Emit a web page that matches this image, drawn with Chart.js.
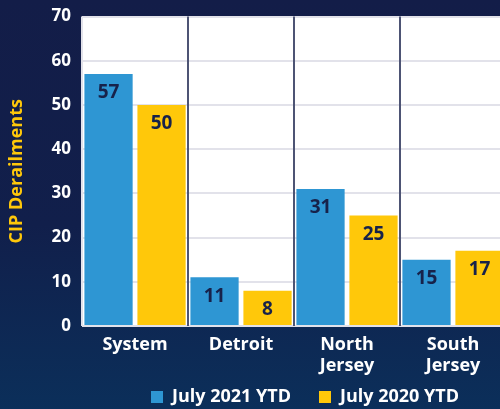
<!DOCTYPE html>
<html>
<head>
<meta charset="utf-8">
<script src="https://cdn.jsdelivr.net/npm/chart.js@4"></script>
<style>
  html, body { margin: 0; padding: 0; overflow: hidden; }
  body {
    width: 500px; height: 409px;
    background: linear-gradient(180deg, #131d48 0%, #111f4b 55%, #0b2f5a 100%);
  }
  #wrap { position: relative; width: 506px; height: 409px; }
</style>
</head>
<body>
<div id="wrap"><canvas id="chart"></canvas></div>
<script>
const categories = ['System', 'Detroit', ['North', 'Jersey'], ['South', 'Jersey']];
const ytd2021 = [57, 11, 31, 15];
const ytd2020 = [50, 8, 25, 17];
const seriesNames = ['July 2021 YTD', 'July 2020 YTD'];

const BLUE = '#2e96d3';
const GOLD = '#ffc80a';
const NAVY = '#17224a';
const FONT = '"Open Sans", "DejaVu Sans", sans-serif';

// white plot background + dark dividers between categories
const plotBg = {
  id: 'plotBg',
  beforeDraw(chart) {
    const { ctx, chartArea: a } = chart;
    ctx.save();
    ctx.fillStyle = '#ffffff';
    ctx.fillRect(a.left, a.top, a.right - a.left, a.bottom - a.top);
    ctx.restore();
  },
  beforeDatasetsDraw(chart) {
    const { ctx, chartArea: a, scales: { x } } = chart;
    ctx.save();
    ctx.strokeStyle = '#4d5474';
    ctx.lineWidth = 2;
    for (let i = 1; i < categories.length; i++) {
      const px = Math.round((x.getPixelForValue(i - 1) + x.getPixelForValue(i)) / 2);
      ctx.beginPath();
      ctx.moveTo(px, a.top);
      ctx.lineTo(px, a.bottom);
      ctx.stroke();
    }
    ctx.restore();
  }
};

// legend uses a wide item gap (= padding); stretch its box upward so the row fits
const legendLift = {
  id: 'legendLift',
  afterLayout(chart) {
    const lg = chart.legend;
    if (!lg) return;
    lg.top -= 16;
    lg.height += 16;
    lg.left += 11;
    lg.right += 11;
  }
};

const barLabels = {
  id: 'barLabels',
  afterDatasetsDraw(chart) {
    const { ctx } = chart;
    ctx.save();
    ctx.fillStyle = NAVY;
    ctx.font = `bold 19px ${FONT}`;
    ctx.textAlign = 'center';
    ctx.textBaseline = 'middle';
    chart.data.datasets.forEach((ds, di) => {
      chart.getDatasetMeta(di).data.forEach((bar, i) => {
        ctx.fillText(String(ds.data[i]), bar.x, bar.y + 19);
      });
    });
    ctx.restore();
  }
};

new Chart(document.getElementById('chart'), {
  type: 'bar',
  data: {
    labels: categories,
    datasets: [
      { label: seriesNames[0], data: ytd2021, backgroundColor: BLUE },
      { label: seriesNames[1], data: ytd2020, backgroundColor: GOLD }
    ]
  },
  options: {
    responsive: true,
    maintainAspectRatio: false,
    animation: false,
    layout: { padding: { top: 0, left: 6, right: 0, bottom: 0 } },
    datasets: { bar: { categoryPercentage: 1.0, barPercentage: 0.91 } },
    plugins: {
      legend: {
        position: 'bottom',
        fullSize: false,
        maxHeight: 33,
        labels: {
          color: '#ffffff',
          font: { family: FONT, size: 18, weight: 'bold' },
          boxWidth: 12, boxHeight: 12, padding: 28
        }
      },
      tooltip: { enabled: false }
    },
    scales: {
      x: {
        grid: { color: '#e2e2ea', lineWidth: 2, drawTicks: false },
        border: { display: false },
        ticks: {
          color: '#ffffff', padding: 9,
          font: { family: FONT, size: 18, weight: 'bold', lineHeight: 1.15 }
        },
        afterFit(scale) { scale.height = 50; }
      },
      y: {
        min: 0, max: 70,
        grid: { color: '#e2e2ea', lineWidth: 2, drawTicks: false },
        border: { display: false },
        ticks: {
          stepSize: 10, color: '#ffffff', padding: 11,
          font: { family: FONT, size: 17, weight: 'bold', lineHeight: 0.65 }
        },
        title: {
          display: true, text: 'CIP Derailments', color: GOLD,
          font: { family: FONT, size: 18, weight: 'bold' },
          padding: { top: 0, bottom: 13 }
        }
      }
    }
  },
  plugins: [plotBg, legendLift, barLabels]
});
</script>
</body>
</html>
